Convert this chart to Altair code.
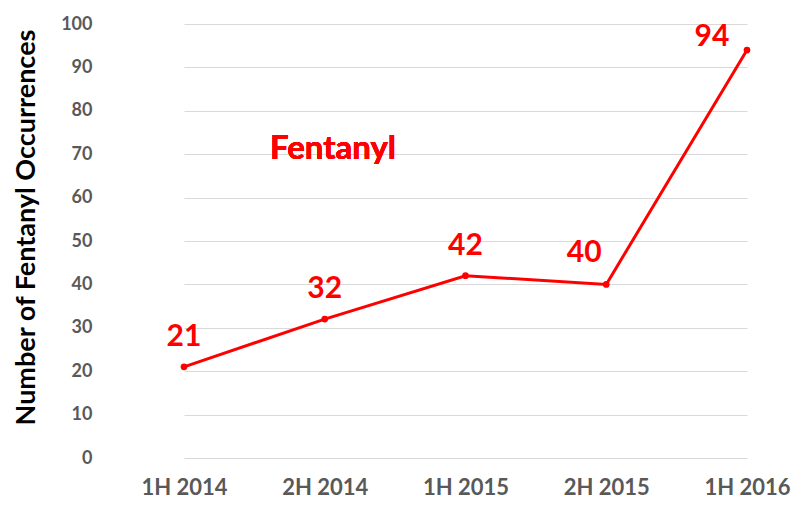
import altair as alt
import pandas as pd

periods = ["1H 2014", "2H 2014", "1H 2015", "2H 2015", "1H 2016"]
counts = [21, 32, 42, 40, 94]
series_label = "Fentanyl"
y_title = "Number of Fentanyl Occurrences"

df = pd.DataFrame({"period": periods, "count": counts})

RED = "#FF0000"
FONT = "Lato"

x_enc = alt.X("period:N", sort=periods,
              scale=alt.Scale(type="point", range=[70, 633], padding=0),
              axis=alt.Axis(title=None, labelAngle=0, labelFont=FONT, labelFontSize=22,
                            labelFontWeight="bold", labelColor="#595959", ticks=False,
                            domain=False, labelPadding=19, grid=False, labelBaseline="top"))
y_enc = alt.Y("count:Q",
              scale=alt.Scale(domain=[0, 100], nice=False),
              axis=alt.Axis(values=list(range(0, 101, 10)), title=y_title,
                            titleFont=FONT, titleFontSize=27, titleFontWeight="bold",
                            titleColor="#000000", titleAngle=-90, titleX=-88, titleY=203,
                            titleBaseline="middle", titleAlign="center",
                            labelFont=FONT, labelFontSize=18, labelFontWeight="bold",
                            labelColor="#595959", ticks=False, domain=False, labelPadding=22,
                            gridColor="#D9D9D9", gridWidth=1))

base = alt.Chart(df).encode(x=x_enc, y=y_enc)

line = base.mark_line(color=RED, strokeWidth=3)
pts = base.mark_point(filled=True, color=RED, size=45, opacity=1)

def lbl(filt, dx, dy):
    return base.transform_filter(filt).mark_text(
        color=RED, font=FONT, fontSize=30, fontWeight="bold",
        baseline="alphabetic", align="center", dx=dx, dy=dy
    ).encode(text="count:Q")

l1 = lbl(alt.FieldOneOfPredicate(field="period", oneOf=periods[:3]), 0, -21)
l2 = lbl(alt.FieldEqualPredicate(field="period", equal=periods[3]), -22, -22)
l3 = lbl(alt.FieldEqualPredicate(field="period", equal=periods[4]), -35, -4)

series = alt.Chart(df).mark_text(
    color=RED, font=FONT, fontSize=33, fontWeight="bold", baseline="alphabetic", align="center"
).encode(x=alt.value(219), y=alt.value(135), text=alt.value(series_label))

chart = alt.layer(line, pts, l1, l2, l3, series).properties(
    width=687, height=434,
    autosize=alt.AutoSizeParams(type="none"),
    padding={"left": 106, "top": 16, "right": 0, "bottom": 40},
).configure_view(stroke=None)

chart.save("out.html", embed_options={"renderer": "svg", "actions": False})
